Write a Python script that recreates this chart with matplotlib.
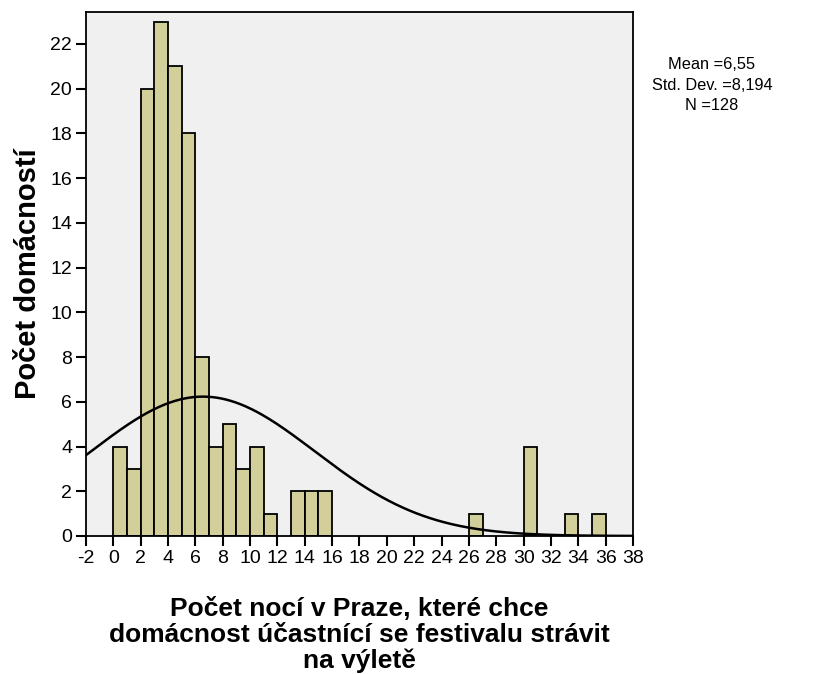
import numpy as np
import matplotlib.pyplot as plt

plt.rcParams['font.family'] = ['Liberation Sans', 'DejaVu Sans']
plt.rcParams['axes.unicode_minus'] = False

# histogram bins (left edges, width 1) and counts
bin_left = [0, 1, 2, 3, 4, 5, 6, 7, 8, 9, 10, 11, 13, 14, 15, 26, 30, 33, 35]
counts = [4, 3, 20, 23, 21, 18, 8, 4, 5, 3, 4, 1, 2, 2, 2, 1, 4, 1, 1]

mean = 6.55
std = 8.194
n = 128

x_ticks = list(range(-2, 39, 2))
y_ticks = list(range(0, 23, 2))

fig = plt.figure(figsize=(8.19, 6.74), dpi=100)
ax = fig.add_axes([86 / 819, 1 - 536 / 674, 547 / 819, 524 / 674])
ax.set_facecolor('#F0F0F0')

ax.bar(bin_left, counts, width=1, align='edge', color='#D3CF9B',
       edgecolor='black', linewidth=1.3, zorder=2)

# fitted normal curve scaled to counts
xs = np.linspace(-2, 38, 400)
curve = n * 1.0 * np.exp(-0.5 * ((xs - mean) / std) ** 2) / (std * np.sqrt(2 * np.pi))
ax.plot(xs, curve, color='black', linewidth=1.8, zorder=3)

ax.set_xlim(-2, 38)
ax.set_ylim(0, 23.43)
ax.set_xticks(x_ticks)
ax.set_yticks(y_ticks)
ax.tick_params(direction='out', length=7, width=1.5, labelsize=14, pad=3)
for s in ax.spines.values():
    s.set_linewidth(1.3)

ax.set_ylabel('Počet domácností', fontsize=21, fontweight='bold', labelpad=6)
ax.set_xlabel('Počet nocí v Praze, které chce\ndomácnost účastnící se festivalu strávit\nna výletě',
              fontsize=19, fontweight='bold', labelpad=22, linespacing=1.07)

fig.text(712 / 819, 1 - 85 / 674, 'Mean =6,55\nStd. Dev. =8,194\nN =128',
         ha='center', va='center', fontsize=11.8, linespacing=1.42)

fig.savefig('out.png', dpi=100, facecolor='white')
